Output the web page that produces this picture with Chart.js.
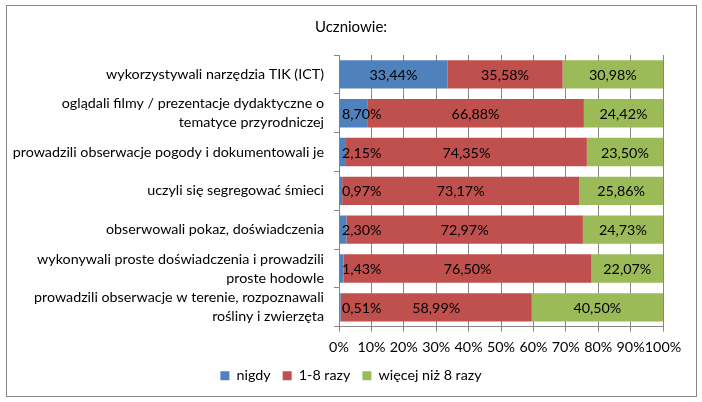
<!DOCTYPE html>
<html>
<head>
<meta charset="utf-8">
<script src="https://cdn.jsdelivr.net/npm/chart.js@4/dist/chart.umd.min.js"></script>
<style>
html,body{margin:0;padding:0;background:#fff;}
#wrap{width:702px;height:402px;}
</style>
</head>
<body>
<div id="wrap"><canvas id="c" width="702" height="402"></canvas></div>
<script>
const categories = [
  "wykorzystywali narzędzia TIK (ICT)",
  ["oglądali filmy / prezentacje dydaktyczne o", "tematyce przyrodniczej"],
  "prowadzili obserwacje pogody i dokumentowali je",
  "uczyli się segregować śmieci",
  "obserwowali pokaz, doświadczenia",
  ["wykonywali proste doświadczenia i prowadzili", "proste hodowle"],
  ["prowadzili obserwacje w terenie, rozpoznawali", "rośliny i zwierzęta"]
];
const seriesNames = ["nigdy", "1-8 razy", "więcej niż 8 razy"];
const nigdy = [33.44, 8.70, 2.15, 0.97, 2.30, 1.43, 0.51];
const razy18 = [35.58, 66.88, 74.35, 73.17, 72.97, 76.50, 58.99];
const wiecej = [30.98, 24.42, 23.50, 25.86, 24.73, 22.07, 40.50];
const xTicks = [0,10,20,30,40,50,60,70,80,90,100];

const FONT = "Lato, 'Liberation Sans', sans-serif";
const GRID = '#868686';

const fmt = v => v.toFixed(2).replace('.', ',') + '%';

const bgBorder = {
  id: 'bgBorder',
  beforeDraw(chart) {
    const ctx = chart.ctx;
    ctx.save();
    ctx.fillStyle = '#fff';
    ctx.fillRect(0, 0, chart.width, chart.height);
    ctx.strokeStyle = '#868686';
    ctx.lineWidth = 1;
    ctx.strokeRect(6.5, 5.5, 690, 391);
    ctx.restore();
  }
};

const barLabels = {
  id: 'barLabels',
  afterDatasetsDraw(chart) {
    const ctx = chart.ctx;
    const area = chart.chartArea;
    ctx.save();
    ctx.font = '14.3px ' + FONT;
    ctx.fillStyle = '#000';
    ctx.textBaseline = 'middle';
    chart.data.datasets.forEach((ds, di) => {
      const meta = chart.getDatasetMeta(di);
      meta.data.forEach((el, i) => {
        const p = el.getProps(['x', 'base', 'y'], true);
        const txt = fmt(ds.data[i]);
        const w = ctx.measureText(txt).width;
        const left = Math.min(p.x, p.base), right = Math.max(p.x, p.base);
        let cx = (left + right) / 2;
        ctx.textAlign = 'center';
        if (w > right - left) {
          ctx.textAlign = 'left';
          cx = Math.max(area.left + 3, cx - w / 2);
        }
        ctx.fillText(txt, cx, p.y + 1);
      });
    });
    ctx.restore();
  }
};

new Chart(document.getElementById('c'), {
  type: 'bar',
  data: {
    labels: categories,
    datasets: [
      { label: seriesNames[0], data: nigdy, backgroundColor: '#4F81BD' },
      { label: seriesNames[1], data: razy18, backgroundColor: '#C0504D' },
      { label: seriesNames[2], data: wiecej, backgroundColor: '#9BBB59' }
    ]
  },
  options: {
    indexAxis: 'y',
    responsive: false,
    animation: false,
    devicePixelRatio: 1,
    datasets: { bar: { categoryPercentage: 1, barPercentage: 0.73 } },
    layout: { padding: { top: 8, left: 8, right: 8, bottom: 9 } },
    plugins: {
      title: {
        display: true,
        text: 'Uczniowie:',
        color: '#000',
        font: { family: FONT, size: 15, weight: 'normal' },
        padding: { top: 10, bottom: 19 }
      },
      legend: {
        position: 'bottom',
        labels: {
          color: '#000',
          font: { family: FONT, size: 14.3 },
          boxWidth: 9,
          boxHeight: 9,
          padding: 12
        }
      },
      tooltip: { enabled: false }
    },
    scales: {
      x: {
        stacked: true,
        min: 0,
        max: 100,
        afterBuildTicks(scale) { scale.ticks = xTicks.map(v => ({ value: v })); },
        ticks: {
          color: '#000',
          font: { family: FONT, size: 14.3 },
          padding: 7,
          maxRotation: 0,
          autoSkip: false,
          callback: v => v + '%'
        },
        grid: { color: GRID, tickLength: 5, drawTicks: true },
        border: { color: GRID },
        afterFit(scale) { scale.height = 30; }
      },
      y: {
        stacked: true,
        ticks: {
          color: '#000',
          font: { family: FONT, size: 14.3, lineHeight: 1.34 },
          padding: 10,
          autoSkip: false
        },
        grid: { offset: true, drawOnChartArea: false, drawTicks: true, tickLength: 5, color: GRID },
        border: { color: GRID },
        afterFit(scale) { scale.width = 331; }
      },
      yRight: {
        type: 'category',
        position: 'right',
        labels: [''],
        ticks: { display: false },
        grid: { display: false },
        border: { display: false },
        afterFit(scale) { scale.width = 31; }
      }
    }
  },
  plugins: [bgBorder, barLabels]
});
</script>
</body>
</html>
